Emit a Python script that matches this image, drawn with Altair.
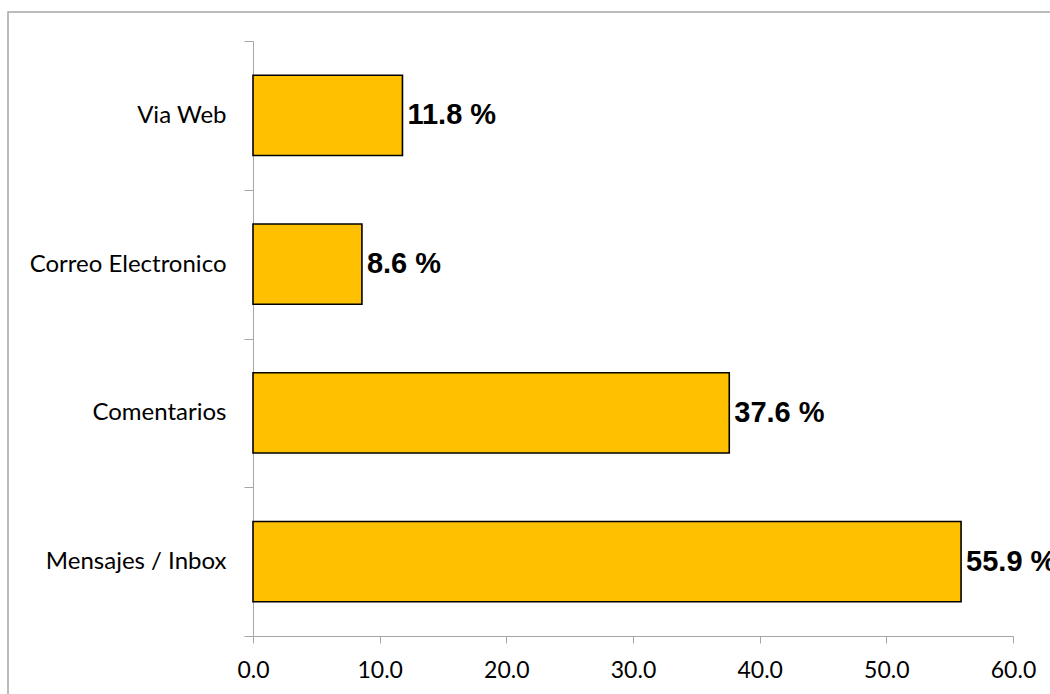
import altair as alt
import pandas as pd

categories = ["Via Web", "Correo Electronico", "Comentarios", "Mensajes / Inbox"]
values = [11.8, 8.6, 37.6, 55.9]
x_ticks = [0, 10, 20, 30, 40, 50, 60]

df = pd.DataFrame({"canal": categories, "pct": values})

base = alt.Chart(df).encode(
    y=alt.Y(
        "canal:N",
        sort=categories,
        title=None,
        scale=alt.Scale(paddingInner=0, paddingOuter=0),
        axis=alt.Axis(
            tickBand="extent",
            tickSize=9,
            tickColor="#a6a6a6",
            domainColor="#a6a6a6",
            labelFont="Lato",
            labelFontSize=24,
            labelColor="#000000",
            labelPadding=18,
            labelLimit=400,
        ),
    ),
    x=alt.X(
        "pct:Q",
        title=None,
        scale=alt.Scale(domain=[0, 60], nice=False),
        axis=alt.Axis(
            values=x_ticks,
            format=".1f",
            grid=False,
            tickSize=7,
            tickColor="#a6a6a6",
            domainColor="#a6a6a6",
            labelFont="Lato",
            labelFontSize=23,
            labelColor="#000000",
            labelPadding=16,
            labelFlush=False,
            labelOverlap=False,
        ),
    ),
)

bars = base.mark_bar(
    color="#FFC000", stroke="#000000", strokeWidth=1.6,
    height=alt.RelativeBandSize(0.54),
)

labels = base.transform_calculate(
    lab="format(datum.pct, '.1f') + ' %'"
).mark_text(
    align="left", baseline="middle", dx=5, font="Liberation Sans",
    fontWeight="bold", fontSize=29, color="#000000"
).encode(text="lab:N")

frame = alt.Chart(pd.DataFrame({"a": [0]})).mark_rect(
    fill="transparent", stroke="#a6a6a6", strokeWidth=1.5
).encode(
    x=alt.value(-245), x2=alt.value(810), y=alt.value(-29), y2=alt.value(670)
)

chart = alt.layer(bars, labels, frame).properties(
    width=760,
    height=595,
    padding={"left": 253, "top": 41, "right": 37, "bottom": 58},
    autosize=alt.AutoSizeParams(type="none"),
).configure_view(stroke=None)

chart.save("out.html", embed_options={"renderer": "svg", "actions": False})
